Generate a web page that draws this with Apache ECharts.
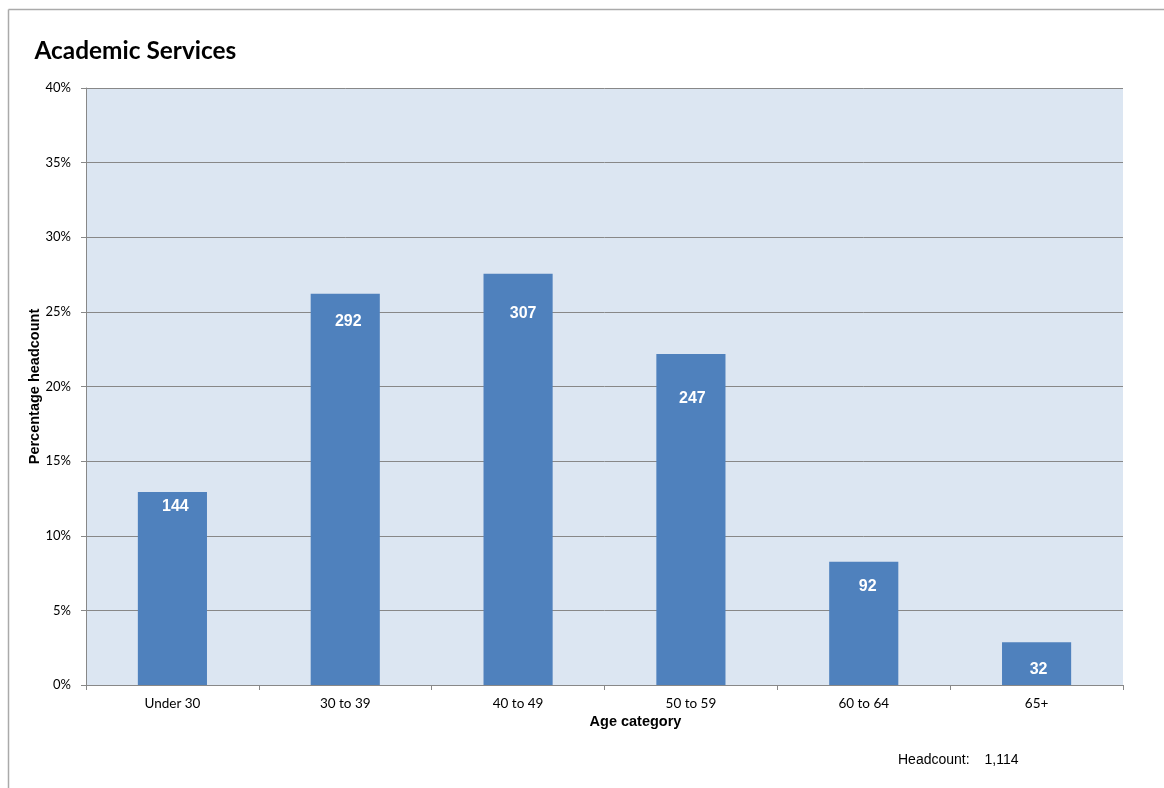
<!DOCTYPE html>
<html><head><meta charset="utf-8">
<script src="https://cdn.jsdelivr.net/npm/echarts@6/dist/echarts.min.js"></script>
<style>html,body{margin:0;padding:0;background:#fff}#c{width:1164px;height:788px}</style>
</head><body><div id="c"></div>
<script>
const categories = ['Under 30', '30 to 39', '40 to 49', '50 to 59', '60 to 64', '65+'];
const headcounts = [144, 292, 307, 247, 92, 32];
const percentages = [12.93, 26.21, 27.56, 22.17, 8.26, 2.87];
const yTicks = ['0%', '5%', '10%', '15%', '20%', '25%', '30%', '35%', '40%'];
const totalLabel = '1,114';

// label placement (style only): [dx, distance from bar top]
const labelPlacement = [[3, 7], [3, 20], [5, 32], [1.5, 36], [4, 17], [2, 19]];

const chart = echarts.init(document.getElementById('c'), null, {renderer: 'canvas'});
chart.setOption({
  animation: false,
  backgroundColor: '#fff',
  title: {
    text: 'Academic Services', left: 34.5, top: 39, padding: 0,
    textStyle: {fontFamily: 'Lato', fontWeight: 'bold', fontSize: 24.4, color: '#000'}
  },
  grid: {left: 86, right: 41, top: 88, bottom: 103, show: true, backgroundColor: '#DCE6F2', borderWidth: 0},
  xAxis: {
    type: 'category', data: categories,
    name: 'Age category', nameLocation: 'middle', nameGap: 29, nameMoveOverlap: false,
    nameTextStyle: {fontFamily: 'Arial, Liberation Sans', fontWeight: 'bold', fontSize: 14.5, color: '#000', padding: [0, 0, 0, 62]},
    axisLine: {lineStyle: {color: '#888', width: 1}},
    axisTick: {show: true, length: 5, lineStyle: {color: '#888'}},
    axisLabel: {fontFamily: 'Lato', fontSize: 13.5, color: '#000', margin: 12},
    splitLine: {show: false}
  },
  yAxis: {
    type: 'value', min: 0, max: 40, interval: 5,
    name: 'Percentage headcount', nameLocation: 'middle', nameGap: 44, nameRotate: 90, nameMoveOverlap: false,
    nameTextStyle: {fontFamily: 'Arial, Liberation Sans', fontWeight: 'bold', fontSize: 14.5, color: '#000'},
    axisLine: {show: true, lineStyle: {color: '#888', width: 1}},
    axisTick: {show: true, length: 5, lineStyle: {color: '#888'}},
    axisLabel: {fontFamily: 'Lato', fontSize: 13, color: '#000', margin: 15,
      formatter: (v) => yTicks[Math.round(v / 5)]},
    splitLine: {show: true, lineStyle: {color: '#888', width: 1}}
  },
  series: [{
    type: 'bar', barWidth: '40%',
    data: percentages.map((v, i) => ({
      value: v,
      label: {distance: labelPlacement[i][1], offset: [labelPlacement[i][0], 0]}
    })),
    itemStyle: {color: '#4F81BD'},
    label: {
      show: true, position: 'insideTop',
      formatter: (p) => String(headcounts[p.dataIndex]),
      fontFamily: 'Arial, Liberation Sans', fontWeight: 'bold', fontSize: 16, color: '#fff'
    }
  }],
  graphic: [
    {type: 'line', shape: {x1: 8.5, y1: 9.5, x2: 1164, y2: 9.5}, style: {stroke: '#aaa', lineWidth: 1.5}},
    {type: 'line', shape: {x1: 8.5, y1: 9.5, x2: 8.5, y2: 788}, style: {stroke: '#aaa', lineWidth: 1.5}},
    {type: 'text', left: 898, top: 753.5, style: {text: 'Headcount:', fontFamily: 'Arial, Liberation Sans', fontSize: 14, fill: '#000'}},
    {type: 'text', left: 984.5, top: 753.5, style: {text: totalLabel, fontFamily: 'Arial, Liberation Sans', fontSize: 14, fill: '#000'}}
  ]
});
</script></body></html>
